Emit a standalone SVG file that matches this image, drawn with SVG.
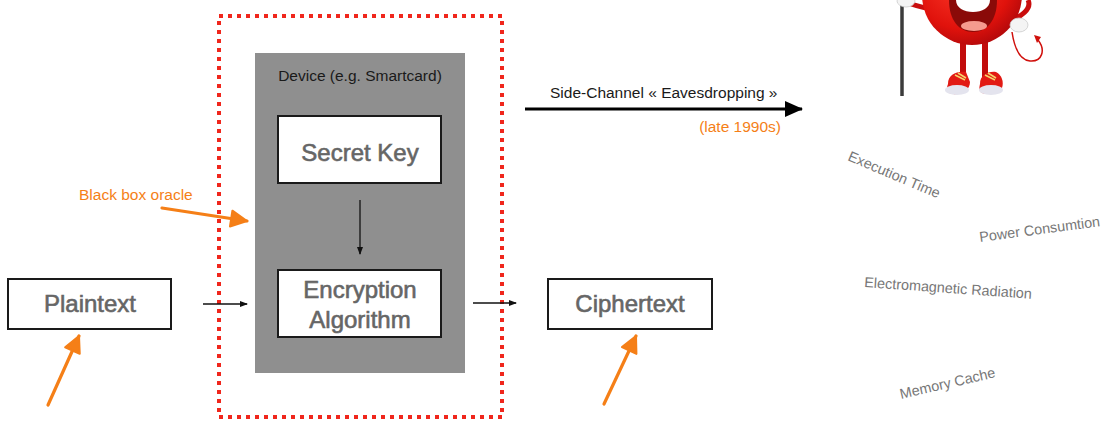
<svg xmlns="http://www.w3.org/2000/svg" width="1111" height="421" viewBox="0 0 1111 421">
  <style>
    .box { fill: #ffffff; stroke: #1a1a1a; stroke-width: 2; }
    .big { font-family: "Liberation Sans", Arial, sans-serif; font-size: 24px; fill: #666666; stroke: #666666; stroke-width: 0.6; text-anchor: middle; }
    .lbl { font-family: "Liberation Sans", Arial, sans-serif; font-size: 15.5px; fill: #1a1a1a; }
    .org { font-family: "Liberation Sans", Arial, sans-serif; font-size: 15.5px; fill: #f57f17; }
    .leak { font-family: "Liberation Sans", Arial, sans-serif; font-size: 14.4px; fill: #777777; }
    .thin { stroke: #111111; stroke-width: 1.3; fill: none; }
    .hand { stroke: #f57f17; stroke-width: 3.2; fill: none; stroke-linecap: round; }
  </style>
  <defs>
    <marker id="tip" markerWidth="8" markerHeight="8" refX="7" refY="4" orient="auto" markerUnits="userSpaceOnUse">
      <path d="M0,1 L8,4 L0,7 Z" fill="#111111"/>
    </marker>
    <marker id="tipBig" markerWidth="18" markerHeight="16" refX="17" refY="8" orient="auto" markerUnits="userSpaceOnUse">
      <path d="M0,0 L18,8 L0,16 Z" fill="#000000"/>
    </marker>
    <marker id="tipOrange" markerWidth="20" markerHeight="20" refX="18" refY="10" orient="auto" markerUnits="userSpaceOnUse">
      <path d="M2,2 L18,10 L2,18 Z" fill="#f57f17" stroke="#f57f17" stroke-width="2" stroke-linejoin="round"/>
    </marker>
    <radialGradient id="bodyGrad" cx="0.4" cy="0.35" r="0.7">
      <stop offset="0" stop-color="#ff3a2a"/>
      <stop offset="0.7" stop-color="#e0120c"/>
      <stop offset="1" stop-color="#b0080a"/>
    </radialGradient>
  </defs>

  <rect width="1111" height="421" fill="#ffffff"/>

  <!-- attack boundary -->
  <g id="oracle-boundary">
    <rect x="219" y="16" width="283" height="401" fill="none" stroke="#f0261c" stroke-width="4" stroke-dasharray="4 5"/>
  </g>

  <!-- device -->
  <g id="device">
    <rect x="255" y="53" width="210" height="320" fill="#8f8f8f"/>
    <text class="lbl" x="360" y="81" text-anchor="middle">Device (e.g. Smartcard)</text>
  </g>

  <g id="secret-key">
    <rect class="box" x="278" y="116" width="163" height="67"/>
    <text class="big" x="360" y="161">Secret Key</text>
  </g>

  <g id="encryption">
    <rect class="box" x="278" y="270" width="163" height="67"/>
    <text class="big" x="360" y="298">Encryption</text>
    <text class="big" x="360" y="328">Algorithm</text>
  </g>

  <g id="plaintext">
    <rect class="box" x="8" y="279" width="163" height="50"/>
    <text class="big" x="90" y="312">Plaintext</text>
  </g>

  <g id="ciphertext">
    <rect class="box" x="548" y="279" width="164" height="50"/>
    <text class="big" x="630" y="312">Ciphertext</text>
  </g>

  <!-- connectors -->
  <g id="connectors">
    <line class="thin" x1="360" y1="200" x2="360" y2="254" marker-end="url(#tip)"/>
    <line class="thin" x1="203" y1="304" x2="247" y2="304" marker-end="url(#tip)"/>
    <line class="thin" x1="473" y1="303" x2="516" y2="303" marker-end="url(#tip)"/>
    <line x1="525" y1="109" x2="802" y2="109" stroke="#000000" stroke-width="3.2" marker-end="url(#tipBig)"/>
    <line class="hand" x1="162" y1="208" x2="247" y2="221" marker-end="url(#tipOrange)"/>
    <line class="hand" x1="48" y1="405" x2="79" y2="336" marker-end="url(#tipOrange)"/>
    <line class="hand" x1="604" y1="404" x2="636" y2="336" marker-end="url(#tipOrange)"/>
  </g>

  <!-- labels -->
  <g id="labels">
    <text class="org" x="79" y="200">Black box oracle</text>
    <text class="lbl" x="550" y="98">Side-Channel « Eavesdropping »</text>
    <text class="org" x="781" y="132" text-anchor="end">(late 1990s)</text>
  </g>

  <!-- leakage channels -->
  <g id="leaks">
    <text class="leak" transform="translate(847,160) rotate(23)">Execution Time</text>
    <text class="leak" transform="translate(980,242) rotate(-7.5)">Power Consumtion</text>
    <text class="leak" transform="translate(864,287) rotate(4)">Electromagnetic Radiation</text>
    <text class="leak" transform="translate(901,399) rotate(-13)">Memory Cache</text>
  </g>

  <!-- little devil eavesdropper -->
  <g id="devil">
    <!-- staff -->
    <line x1="902" y1="0" x2="902" y2="96" stroke="#3b3b3b" stroke-width="3.5"/>
    <!-- left arm -->
    <path d="M935,10 C925,8 915,6 906,2" stroke="#c90d0d" stroke-width="5" fill="none"/>
    <ellipse cx="906" cy="1" rx="9" ry="6" fill="#f4f4f4" stroke="#cccccc" stroke-width="0.8"/>
    <!-- right arm -->
    <path d="M1005,22 C1022,18 1032,8 1028,0" stroke="#c90d0d" stroke-width="5" fill="none"/>
    <!-- legs -->
    <rect x="960" y="38" width="6" height="40" fill="#c20c0c"/>
    <rect x="982" y="38" width="6" height="40" fill="#c20c0c"/>
    <!-- body -->
    <circle cx="972" cy="-5" r="50" fill="url(#bodyGrad)"/>
    <!-- mouth -->
    <path d="M949,0 L997,0 C997,20 987,32 973,32 C959,32 949,20 949,0 Z" fill="#8a0a08"/>
    <path d="M956,0 L990,0 C990,8 982,12 973,12 C964,12 956,8 956,0 Z" fill="#ffffff"/>
    <ellipse cx="974" cy="26" rx="13" ry="5" fill="#f59a8e"/>
    <!-- right glove -->
    <ellipse cx="1019" cy="25" rx="9" ry="7" fill="#f4f4f4" stroke="#cccccc" stroke-width="0.8"/>
    <!-- tail -->
    <path d="M1012,32 C1014,45 1018,60 1030,61 C1042,62 1046,50 1038,40" stroke="#d0100c" stroke-width="1.5" fill="none"/>
    <path d="M1034,35 L1041,37 L1037,43 Z" fill="#d0100c"/>
    <!-- shoes -->
    <path d="M948,84 C948,75 956,71 966,72 L970,82 C970,90 962,95 952,94 C947,93 946,89 948,84 Z" fill="#e21a14"/>
    <ellipse cx="957" cy="90" rx="12" ry="5" fill="#e4e4ee"/>
    <path d="M955,75 L965,80 M958,73 L966,78" stroke="#f6d56a" stroke-width="1.5"/>
    <path d="M980,84 C980,75 988,71 996,72 C1002,75 1004,82 1002,88 C998,94 988,95 982,93 C979,91 979,88 980,84 Z" fill="#e21a14"/>
    <ellipse cx="991" cy="90" rx="12" ry="5" fill="#e4e4ee"/>
    <path d="M985,75 L995,80 M988,73 L996,78" stroke="#f6d56a" stroke-width="1.5"/>
  </g>
</svg>
